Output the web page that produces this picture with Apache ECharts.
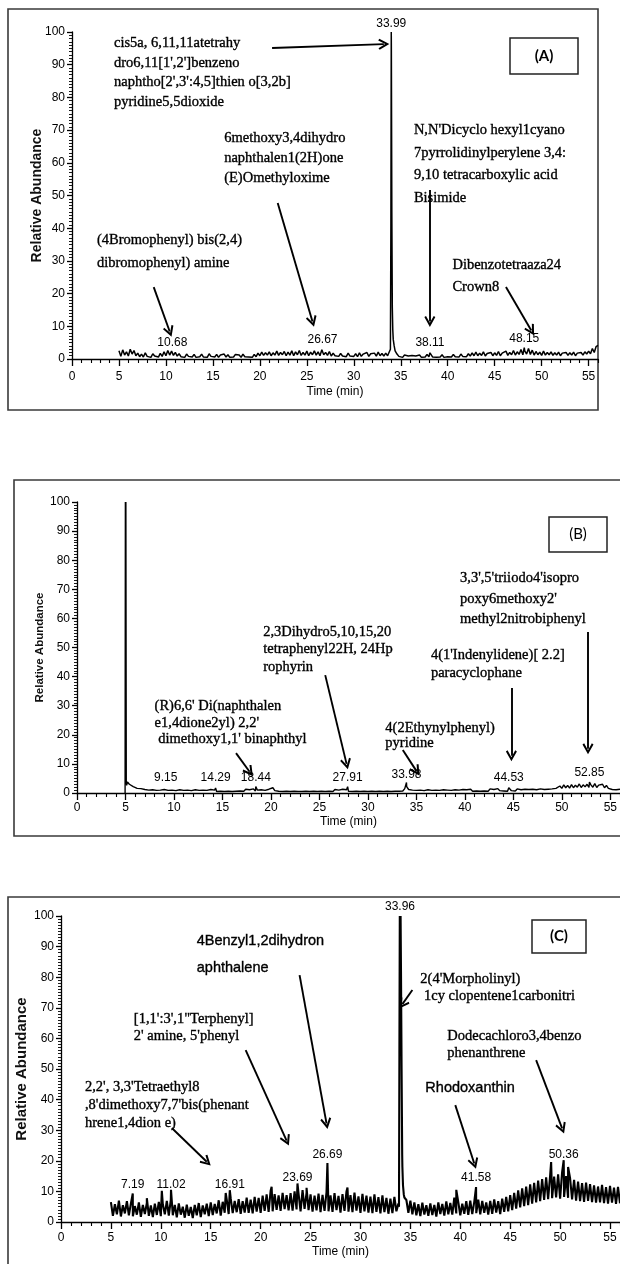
<!DOCTYPE html>
<html><head><meta charset="utf-8">
<script src="https://cdn.jsdelivr.net/npm/echarts@6/dist/echarts.min.js"></script>
<style>html,body{margin:0;padding:0;background:#fff}#c{width:620px;height:1264px}</style>
</head><body><div id="c"></div>
<script>
// ---------------- DATA ----------------
const T0 = 5, DT = 0.2;               // baseline samples start at 5 min, every 0.2 min
const xMajor = [0,5,10,15,20,25,30,35,40,45,50,55];
const xMinor = [1,2,3,4,6,7,8,9,11,12,13,14,16,17,18,19,21,22,23,24,26,27,28,29,31,32,33,34,36,37,38,39,41,42,43,44,46,47,48,49,51,52,53,54,56];

// Panel A trace (relative abundance, %)
const baseA = [
2.5,0.8,2.8,1.2,2.2,0.9,3.0,1.5,2.6,1.0,
1.8,0.7,1.5,0.6,1.9,0.8,1.4,0.5,1.6,0.9,
1.3,0.6,1.7,0.8,2.2,1.0,2.6,1.2,2.4,1.1,
2.0,0.9,1.6,0.7,1.3,0.5,1.5,0.8,1.2,0.6,
1.4,0.5,1.1,0.7,1.5,0.6,1.2,0.5,1.6,0.8,
1.3,0.6,1.4,0.5,1.2,0.7,1.5,0.6,1.3,0.5,
1.1,0.6,1.4,0.8,1.2,0.5,1.5,0.7,1.3,0.6,
1.2,0.5,1.4,0.7,1.8,1.0,2.1,1.1,1.9,1.2,
2.2,1.0,1.9,1.2,2.4,1.1,2.0,1.3,2.3,1.0,
2.1,1.2,2.5,1.0,2.2,1.3,2.6,1.1,2.0,1.2,
2.4,1.0,2.1,1.3,2.5,1.2,2.2,1.0,2.8,1.3,
2.0,1.1,2.3,0.9,1.8,1.0,1.6,0.8,1.7,0.9,
1.5,0.7,1.8,0.9,1.4,0.8,1.6,0.7,1.9,0.8,
1.5,0.9,2.0,0.8,1.6,1.0,1.8,0.9,2.1,1.0,
1.7,0.9,1.8,1.0,1.3,95,6.0,2.5,1.5,0.8,
1.0,0.5,1.2,0.6,0.9,0.4,1.1,0.5,0.9,0.6,
1.2,0.5,1.0,0.6,1.4,0.7,1.6,0.6,1.1,0.5,
1.0,0.6,1.3,0.5,1.1,0.7,1.2,0.6,1.4,0.7,
1.2,0.6,1.5,0.8,1.3,0.7,1.6,0.9,1.9,1.0,
2.1,1.0,1.8,1.1,2.2,0.9,1.7,1.2,2.0,1.0,
1.9,1.1,2.3,1.0,1.8,1.2,2.4,1.1,2.0,1.3,
2.6,1.2,2.2,1.4,2.9,1.3,2.5,1.5,3.2,1.4,
2.7,1.2,2.3,1.3,2.1,1.1,2.4,1.2,2.0,1.3,
2.2,1.1,1.9,1.2,2.1,1.0,1.8,1.3,2.0,1.1,
1.9,1.2,2.1,1.0,1.8,1.3,2.0,1.2,2.2,1.5,
2.4,1.6,3.2,2.0,3.8,4.2];
const extraA = [[10.68,2.9],[26.67,3.2],[33.9,3],[33.95,40],[33.99,100],[34.05,45],[34.1,16],[34.15,9],[34.3,4],[38.11,1.9],[48.15,3.5]];

// Panel B trace
const baseB = [
100,3.8,3.0,2.6,2.2,1.8,1.6,1.3,1.5,1.1,
1.2,0.7,1.0,0.6,1.1,0.5,0.9,0.6,1.0,0.5,
1.2,0.6,0.9,0.5,1.0,0.6,0.8,0.5,1.1,0.6,
0.9,0.5,1.0,0.6,0.8,0.5,1.1,0.6,0.9,0.5,
1.0,0.6,0.9,0.5,1.2,0.6,1.0,0.5,0.9,0.6,
1.0,0.5,0.8,0.6,1.1,0.5,0.9,0.6,1.2,0.7,
1.0,0.6,1.3,0.7,1.1,0.6,1.4,0.7,1.0,0.6,
1.1,0.6,0.9,0.5,1.3,0.7,1.8,0.8,1.1,0.6,
0.9,0.5,1.0,0.6,0.8,0.5,1.0,0.6,0.9,0.5,
1.0,0.5,0.9,0.6,1.1,0.5,0.8,0.6,1.0,0.5,
0.9,0.6,1.0,0.5,1.1,0.6,0.9,0.5,1.2,0.6,
1.0,0.6,1.3,0.7,1.1,0.6,1.2,0.5,1.0,0.6,
0.9,0.5,1.0,0.6,0.8,0.5,1.1,0.6,0.9,0.5,
1.0,0.6,0.9,0.5,1.1,0.6,0.8,0.5,1.0,0.6,
1.1,0.6,1.2,0.7,1.5,2.2,1.2,0.7,1.0,0.6,
0.9,0.5,1.0,0.6,0.8,0.5,1.1,0.6,0.9,0.5,
1.0,0.6,0.9,0.5,1.1,0.6,1.0,0.5,0.9,0.6,
1.1,0.6,1.0,0.7,1.2,0.6,1.1,0.7,1.3,0.6,
1.1,0.7,1.3,0.6,1.0,0.7,1.2,0.6,1.4,0.8,
1.2,0.7,1.5,0.8,1.1,0.7,1.3,0.6,1.5,0.8,
1.2,0.7,1.4,0.8,1.1,0.7,1.3,0.8,1.2,0.7,
1.3,0.8,1.1,0.7,1.4,0.8,1.2,0.7,1.3,0.8,
1.4,0.9,1.6,1.0,2.4,1.6,2.8,1.8,2.6,1.7,
2.9,1.8,2.7,2.0,3.1,1.9,2.8,2.1,3.0,1.9,
2.8,2.0,3.2,1.9,2.7,2.1,3.0,1.8,2.6,1.6,
2.0,1.2,1.6,1.1,1.5,1.3];
const extraB = [[4.96,0],[4.99,100],[5.02,78],[5.04,100],[5.08,4.2],[5.12,2.6],[9.15,1.8],[14.29,1.7],[18.44,2.2],[20.3,2.3],[27.91,2.2],[33.98,3.6],[44.53,1.8],[52.85,3.8]];

// Panel C trace
const baseC = [
6.5,2.0,5.8,2.5,7.0,1.8,5.5,2.8,6.8,2.2,
6.0,1.9,5.2,2.4,6.4,1.7,5.6,2.6,6.2,2.0,
5.4,1.6,6.0,2.3,6.6,1.9,5.8,2.5,6.9,2.1,
7.2,2.2,5.6,1.5,6.1,2.4,5.0,1.4,5.7,2.0,
4.9,1.3,5.6,2.2,6.2,1.6,5.4,2.5,6.0,1.9,
6.4,2.3,5.9,2.8,7.1,2.1,6.6,3.0,7.4,2.6,
7.8,2.9,6.9,3.2,7.5,2.7,6.8,3.1,8.0,3.0,
7.3,2.8,8.2,3.4,7.9,3.0,8.6,3.6,9.0,3.3,
10.2,3.5,9.1,4.0,8.7,3.6,9.5,4.2,8.8,3.8,
9.4,3.7,10.0,4.1,9.2,3.5,10.4,4.3,9.6,3.9,
9.0,3.4,8.6,3.8,9.3,3.2,8.9,3.6,9.8,3.5,
8.7,3.3,9.4,3.9,8.5,3.1,9.1,3.6,10.0,3.4,
8.8,3.2,9.6,3.7,8.4,3.0,9.2,3.5,8.6,3.1,
8.3,2.9,9.0,3.3,8.1,2.8,8.7,3.2,7.9,2.7,
7.6,2.9,8.2,3.5,6.0,98,18,8.0,7.2,3.0,
7.0,2.5,6.4,2.2,5.8,1.9,6.3,2.4,5.5,2.0,
6.1,2.3,5.6,1.8,6.4,2.6,5.9,2.1,6.7,2.5,
6.2,2.4,8.0,2.8,6.5,2.2,6.0,2.7,6.8,2.3,
7.0,2.6,6.6,2.9,7.3,2.5,6.9,3.0,6.4,2.4,
6.9,2.7,7.4,3.1,6.8,2.6,7.6,3.3,8.2,3.5,
8.8,3.9,9.5,4.4,10.3,4.8,11.0,5.2,11.6,5.5,
12.3,6.0,12.8,6.4,13.5,6.8,14.0,7.2,14.6,7.5,
15.2,7.8,14.8,8.0,15.6,7.6,16.2,8.2,15.0,7.9,
14.3,7.4,13.8,7.0,13.2,6.8,12.7,6.6,12.9,6.9,
12.4,6.5,12.0,6.3,11.6,6.4,12.1,6.2,11.4,6.0,
11.8,6.3,11.2,5.9,11.5,6.1];
const extraC = [[7.19,9.3],[8.6,7.8],[10.1,10.2],[11.02,10.5],[16.5,9.5],[16.91,10.4],[21.1,11.5],[23.69,12.6],[24.6,11.2],[26.69,19.3],[28.7,11.3],
  [33.86,5],[33.9,55],[33.94,100],[33.96,100],[33.98,96],[34.02,100],[34.06,82],[34.12,50],[34.18,22],[34.26,12],[34.34,9],
  [39.6,10.5],[41.58,11.4],[49.1,19.6],[50.36,20.2],[50.8,18.0]];

// Labelled retention times
const peaksA = [10.68, 26.67, 33.99, 38.11, 48.15];
const peaksB = [9.15, 14.29, 18.44, 27.91, 33.98, 44.53, 52.85];
const peaksC = [7.19, 11.02, 16.91, 23.69, 26.69, 33.96, 41.58, 50.36];

// Compound annotation texts
const namesA = [
 ['cis5a, 6,11,11atetrahy','dro6,11[1\',2\']benzeno','naphtho[2\',3\':4,5]thien o[3,2b]','pyridine5,5dioxide'],
 ['6methoxy3,4dihydro','naphthalen1(2H)one','(E)Omethyloxime'],
 ['N,N\'Dicyclo hexyl1cyano','7pyrrolidinylperylene 3,4:','9,10 tetracarboxylic acid','Bisimide'],
 ['(4Bromophenyl) bis(2,4)','dibromophenyl) amine'],
 ['Dibenzotetraaza24','Crown8']];
const namesB = [
 ['3,3\',5\'triiodo4\'isopro','poxy6methoxy2\'','methyl2nitrobiphenyl'],
 ['2,3Dihydro5,10,15,20','tetraphenyl22H, 24Hp','rophyrin'],
 ['4(1\'Indenylidene)[ 2.2]','paracyclophane'],
 ['(R)6,6\' Di(naphthalen','e1,4dione2yl) 2,2\'',' dimethoxy1,1\' binaphthyl'],
 ['4(2Ethynylphenyl)','pyridine']];
const namesC = [
 ['4Benzyl1,2dihydron','aphthalene'],
 ['2(4\'Morpholinyl)',' 1cy clopentene1carbonitri'],
 ['[1,1\':3\',1"Terphenyl]','2\' amine, 5\'phenyl'],
 ['Dodecachloro3,4benzo','phenanthrene'],
 ['2,2\', 3,3\'Tetraethyl8',',8\'dimethoxy7,7\'bis(phenant','hrene1,4dion e)'],
 ['Rhodoxanthin']];
const panelTags = ['(A)','(B)','(C)'];

// ---------------- LAYOUT (positions in axis units / pixels) ----------------
const layout = {
 A: { grid:{left:72, top:32, width:526, height:327}, yGap:28, yFont:14, xGap:27, lblMargin:12, lw:1.5,
      labelV:[4.9,5.8,102.4,4.9,6.1],
      notes:[[4.47,99.5,19.5,'s'],[16.2,70.6,20,'s'],[36.4,73.4,22.5,'s'],[2.66,39.8,23,'s'],[40.5,32.1,22,'s']],
      arrows:[[21.3,95.1,33.2,96.3],[21.9,47.7,25.6,11.5],[38.1,51.7,38.1,11.5],[8.7,22.0,10.4,8.4],[46.2,22.0,48.9,8.7]],
      box:[8,9,590,401], tag:[510,38,68,36,true] },
 B: { grid:{left:77, top:502, width:546, height:291}, yGap:31, yFont:11.5, xGap:23, lblMargin:9, lw:1.4,
      labelV:[5.2,5.2,5.2,5.2,6.2,5.2,6.9],
      notes:[[39.5,77.3,20.5,'s'],[19.2,58.4,17.5,'s'],[36.5,50.5,18,'s'],[8.0,32.6,16.5,'s'],[31.8,25.1,15.5,'s']],
      arrows:[[52.7,55.3,52.7,15.2],[25.6,40.5,27.8,10.0],[44.8,36.1,44.8,12.8],[16.4,13.7,17.8,7.3],[33.6,14.8,35.0,7.6]],
      box:[14,480,640,356], tag:[549,517,58,35,false] },
 C: { grid:{left:61, top:916, width:566, height:306}, yGap:32, yFont:15, xGap:24, lblMargin:10, lw:2.1,
      labelV:[12.1,12.1,12.1,14.4,21.9,102.9,14.4,21.9],
      notes:[[13.6,96.4,27,'a'],[36.0,82.0,17,'s'],[7.3,69.0,17,'s'],[38.7,63.4,17,'s'],[2.4,47.1,18,'s'],[36.5,46.4,16,'a']],
      arrows:[[23.9,80.7,26.6,32.2],[35.2,75.8,34.2,71.2],[18.5,56.2,22.6,26.6],[47.6,52.9,50.2,30.6],[11.1,30.7,14.6,19.7],[39.5,38.2,41.4,19.1]],
      box:[8,897,640,400], tag:[532,920,54,33,true] }
};
const SANS = '"Liberation Sans", Arial, sans-serif';
const SERIF = '"Liberation Serif", "Times New Roman", serif';
const chevron = 'path://M5,0 L10,8.6 L8.5,9.6 L5,3.6 L1.5,9.6 L0,8.6 Z';

// ---------------- BUILD ----------------
function trace(base, extra) {
  const pts = base.map((v, i) => [+(T0 + i * DT).toFixed(2), v]).concat(extra);
  pts.sort((a, b) => a[0] - b[0]);
  return pts;
}
const panels = [
  {L: layout.A, data: trace(baseA, extraA), peaks: peaksA, names: namesA},
  {L: layout.B, data: trace(baseB, extraB), peaks: peaksB, names: namesB},
  {L: layout.C, data: trace(baseC, extraC), peaks: peaksC, names: namesC}
];
const grids = [], xAxes = [], yAxes = [], series = [];
panels.forEach((p, gi) => {
  grids.push(Object.assign({containLabel:false}, p.L.grid));
  xAxes.push({type:'value', gridIndex:gi, min:0, max:56, interval:5, position:'bottom',
    axisLine:{show:true, onZero:false, lineStyle:{color:'#000', width:1.3}},
    axisTick:{show:true, customValues:xMajor, length:7, lineStyle:{color:'#000', width:1.3}},
    axisLabel:{customValues:xMajor, fontSize:12, color:'#000', fontFamily:SANS, margin:p.L.lblMargin},
    splitLine:{show:false},
    name:'Time (min)', nameLocation:'middle', nameGap:p.L.xGap,
    nameTextStyle:{fontSize:12, color:'#000', fontFamily:SANS}});
  xAxes.push({type:'value', gridIndex:gi, min:0, max:56, interval:1, position:'bottom',
    axisLine:{show:false}, axisTick:{show:true, customValues:xMinor, length:4, lineStyle:{color:'#000', width:1.1}},
    axisLabel:{show:false}, splitLine:{show:false}});
  yAxes.push({type:'value', gridIndex:gi, min:0, max:100, interval:10,
    axisLine:{show:true, lineStyle:{color:'#000', width:1.3}},
    axisTick:{show:true, length:5, lineStyle:{color:'#000', width:1.3}},
    minorTick:{show:true, splitNumber:10, length:3, lineStyle:{color:'#000', width:0.9}},
    axisLabel:{fontSize:12, color:'#000', fontFamily:SANS, margin:7},
    splitLine:{show:false}, minorSplitLine:{show:false},
    name:'Relative Abundance', nameLocation:'middle', nameGap:p.L.yGap, nameMoveOverlap:false,
    nameTextStyle:{fontSize:p.L.yFont, fontWeight:'bold', color:'#111', fontFamily:SANS}});
  series.push({type:'line', xAxisIndex:gi*2, yAxisIndex:gi, data:p.data, showSymbol:false, symbol:'none',
    lineStyle:{color:'#000', width:p.L.lw}, animation:false, silent:true,
    markLine:{silent:true, animation:false, symbol:['none', chevron], symbolSize:11,
      label:{show:false}, lineStyle:{color:'#000', width:1.9, type:'solid'},
      data:p.L.arrows.map(a => [{coord:[a[0], a[1]]}, {coord:[a[2], a[3]]}])}});
});

const chart = echarts.init(document.getElementById('c'));
chart.setOption({backgroundColor:'#fff', animation:false, grid:grids, xAxis:xAxes, yAxis:yAxes, series});

const g = [];
panels.forEach((p, gi) => {
  const L = p.L;
  g.push({type:'rect', silent:true, z:0, shape:{x:L.box[0], y:L.box[1], width:L.box[2], height:L.box[3]},
    style:{fill:'none', stroke:'#3a3a3a', lineWidth:1.6}});
  const tg = L.tag;
  g.push({type:'rect', silent:true, shape:{x:tg[0], y:tg[1], width:tg[2], height:tg[3]},
    style:{fill:'#fff', stroke:'#222', lineWidth:1.5}});
  g.push({type:'text', silent:true, x:tg[0] + tg[2] / 2, y:tg[1] + tg[3] / 2,
    style:{text:panelTags[gi], fill:'#000', font:(tg[4] ? 'bold ' : '') + '15px Lato, "Open Sans", sans-serif',
      align:'center', verticalAlign:'middle', textAlign:'center', textVerticalAlign:'middle'}});
  p.peaks.forEach((rt, k) => {
    const pt = chart.convertToPixel({seriesIndex:gi}, [rt, L.labelV[k]]);
    g.push({type:'text', silent:true, z:5, x:pt[0], y:pt[1],
      style:{text:rt.toFixed(2), fill:'#000', font:'12px ' + SANS, align:'center', verticalAlign:'middle',
        textAlign:'center', textVerticalAlign:'middle'}});
  });
  p.names.forEach((lines, k) => {
    const n = L.notes[k];
    const pt = chart.convertToPixel({seriesIndex:gi}, [n[0], n[1]]);
    const font = n[3] === 'a' ? '14.5px ' + SANS : '14.5px ' + SERIF;
    g.push({type:'text', silent:true, z:5, x:pt[0], y:pt[1],
      style:{text:lines.join('\n'), fill:'#000', stroke:'#000', lineWidth:0.35, font, lineHeight:n[2],
        align:'left', verticalAlign:'top', textAlign:'left', textVerticalAlign:'top'}});
  });
});
chart.setOption({graphic:g});
</script></body></html>
